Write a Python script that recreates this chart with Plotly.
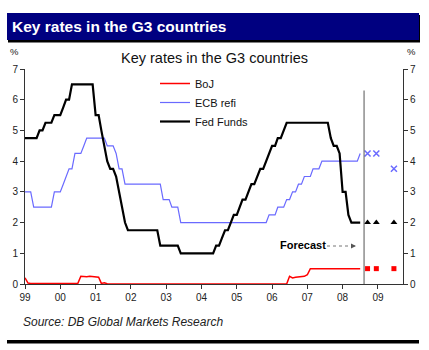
import plotly.graph_objects as go
import pandas as pd

# ---------------- data ----------------
months = pd.date_range("1999-01-01", "2008-07-01", freq="MS")

fed_funds = [
    4.75, 4.75, 4.75, 4.75, 4.75, 5.0, 5.0, 5.25, 5.25, 5.25, 5.5, 5.5,        # 1999
    5.5, 5.75, 6.0, 6.0, 6.5, 6.5, 6.5, 6.5, 6.5, 6.5, 6.5, 6.5,               # 2000
    5.5, 5.5, 5.0, 4.5, 4.0, 3.75, 3.75, 3.5, 3.0, 2.5, 2.0, 1.75,             # 2001
    1.75, 1.75, 1.75, 1.75, 1.75, 1.75, 1.75, 1.75, 1.75, 1.75, 1.25, 1.25,    # 2002
    1.25, 1.25, 1.25, 1.25, 1.25, 1.0, 1.0, 1.0, 1.0, 1.0, 1.0, 1.0,           # 2003
    1.0, 1.0, 1.0, 1.0, 1.0, 1.25, 1.25, 1.5, 1.75, 1.75, 2.0, 2.25,           # 2004
    2.25, 2.5, 2.75, 2.75, 3.0, 3.25, 3.25, 3.5, 3.75, 3.75, 4.0, 4.25,        # 2005
    4.5, 4.5, 4.75, 4.75, 5.0, 5.25, 5.25, 5.25, 5.25, 5.25, 5.25, 5.25,       # 2006
    5.25, 5.25, 5.25, 5.25, 5.25, 5.25, 5.25, 5.25, 4.75, 4.5, 4.5, 4.25,      # 2007
    3.0, 3.0, 2.25, 2.0, 2.0, 2.0, 2.0,                                        # 2008
]

ecb_refi = [
    3.0, 3.0, 3.0, 2.5, 2.5, 2.5, 2.5, 2.5, 2.5, 2.5, 3.0, 3.0,                # 1999
    3.0, 3.25, 3.5, 3.75, 3.75, 4.25, 4.25, 4.25, 4.5, 4.75, 4.75, 4.75,       # 2000
    4.75, 4.75, 4.75, 4.75, 4.5, 4.5, 4.5, 4.25, 3.75, 3.75, 3.25, 3.25,       # 2001
    3.25, 3.25, 3.25, 3.25, 3.25, 3.25, 3.25, 3.25, 3.25, 3.25, 3.25, 2.75,    # 2002
    2.75, 2.75, 2.5, 2.5, 2.5, 2.0, 2.0, 2.0, 2.0, 2.0, 2.0, 2.0,              # 2003
    2.0, 2.0, 2.0, 2.0, 2.0, 2.0, 2.0, 2.0, 2.0, 2.0, 2.0, 2.0,                # 2004
    2.0, 2.0, 2.0, 2.0, 2.0, 2.0, 2.0, 2.0, 2.0, 2.0, 2.0, 2.25,               # 2005
    2.25, 2.25, 2.5, 2.5, 2.5, 2.75, 2.75, 3.0, 3.0, 3.25, 3.25, 3.5,          # 2006
    3.5, 3.5, 3.75, 3.75, 3.75, 4.0, 4.0, 4.0, 4.0, 4.0, 4.0, 4.0,             # 2007
    4.0, 4.0, 4.0, 4.0, 4.0, 4.0, 4.25,                                        # 2008
]

boj = [
    0.2, 0.03, 0.02, 0.02, 0.02, 0.02, 0.02, 0.02, 0.02, 0.02, 0.02, 0.02,     # 1999
    0.02, 0.02, 0.02, 0.02, 0.02, 0.02, 0.02, 0.25, 0.24, 0.24, 0.25, 0.24,    # 2000
    0.25, 0.22, 0.02, 0.04, 0.01, 0.01, 0.01, 0.01, 0.01, 0.01, 0.01, 0.01,    # 2001
    0.0, 0.0, 0.0, 0.0, 0.0, 0.0, 0.0, 0.0, 0.0, 0.0, 0.0, 0.0,                # 2002
    0.0, 0.0, 0.0, 0.0, 0.0, 0.0, 0.0, 0.0, 0.0, 0.0, 0.0, 0.0,                # 2003
    0.0, 0.0, 0.0, 0.0, 0.0, 0.0, 0.0, 0.0, 0.0, 0.0, 0.0, 0.0,                # 2004
    0.0, 0.0, 0.0, 0.0, 0.0, 0.0, 0.0, 0.0, 0.0, 0.0, 0.0, 0.0,                # 2005
    0.0, 0.0, 0.0, 0.0, 0.0, 0.0, 0.25, 0.2, 0.22, 0.23, 0.25, 0.25,           # 2006
    0.3, 0.5, 0.5, 0.5, 0.5, 0.5, 0.5, 0.5, 0.5, 0.5, 0.5, 0.5,                # 2007
    0.5, 0.5, 0.5, 0.5, 0.5, 0.5, 0.5,                                         # 2008
]

forecast_dates = ["2008-09-15", "2008-12-15", "2009-06-15"]
fed_forecast = [2.0, 2.0, 2.0]
ecb_forecast = [4.25, 4.25, 3.75]
boj_forecast = [0.5, 0.5, 0.5]

year_ticks = [f"{y}-01-01" for y in range(1999, 2010)]
year_labels = ["99", "00", "01", "02", "03", "04", "05", "06", "07", "08", "09"]

forecast_start = "2008-08-10"

# ---------------- layout helpers (pixel -> paper) ----------------
W, H = 429, 350
L, R, T, B = 25, 403, 69, 284


def px(x):
    return (x - L) / (R - L)


def py(y):
    return (B - y) / (B - T)


RED = "#ff0000"
BLUE = "#6a6aff"
BLACK = "#000000"

fig = go.Figure()

fig.add_trace(go.Scatter(x=months, y=boj, mode="lines", name="BoJ",
                         line=dict(color=RED, width=1.5)))
fig.add_trace(go.Scatter(x=months, y=ecb_refi, mode="lines", name="ECB refi",
                         line=dict(color=BLUE, width=1.2)))
fig.add_trace(go.Scatter(x=months, y=fed_funds, mode="lines", name="Fed Funds",
                         line=dict(color=BLACK, width=2.2)))

fig.add_trace(go.Scatter(x=forecast_dates, y=boj_forecast, mode="markers", showlegend=False,
                         marker=dict(symbol="square", size=5, color=RED)))
fig.add_trace(go.Scatter(x=forecast_dates, y=ecb_forecast, mode="markers", showlegend=False,
                         marker=dict(symbol="x-thin", size=6, color=BLUE,
                                     line=dict(color=BLUE, width=1.5))))
fig.add_trace(go.Scatter(x=forecast_dates, y=fed_forecast, mode="markers", showlegend=False,
                         marker=dict(symbol="triangle-up", size=6, color=BLACK)))

# second y axis for the right-hand scale
fig.add_trace(go.Scatter(x=[forecast_start], y=[0], yaxis="y2", mode="markers",
                         marker=dict(opacity=0), showlegend=False, hoverinfo="skip"))

shapes = [
    # header bar shadow and bar
    dict(type="rect", xref="paper", yref="paper", x0=px(8), x1=px(420), y0=py(42.5), y1=py(15),
         fillcolor="#000000", line=dict(width=0), layer="below"),
    dict(type="rect", xref="paper", yref="paper", x0=px(7), x1=px(419), y0=py(40), y1=py(13),
         fillcolor="#000080", line=dict(width=0), layer="below"),
    # bottom rule
    dict(type="rect", xref="paper", yref="paper", x0=px(7), x1=px(419), y0=py(343.5), y1=py(340),
         fillcolor="#000000", line=dict(width=0)),
    # forecast divider
    dict(type="line", xref="x", yref="y", x0=forecast_start, x1=forecast_start, y0=0, y1=6.3,
         line=dict(color="#555555", width=1)),
    # dotted arrow shaft
    dict(type="line", xref="paper", yref="paper", x0=px(327), x1=px(351), y0=py(246), y1=py(246),
         line=dict(color="#777777", width=1, dash="dot")),
]

annotations = [
    dict(text="<b>Key rates in the G3 countries</b>", xref="paper", yref="paper",
         x=px(10), y=py(27), xanchor="left", yanchor="middle", showarrow=False,
         font=dict(family="Liberation Sans, Arial", size=15.5, color="white")),
    dict(text="Key rates in the G3 countries", xref="paper", yref="paper",
         x=px(214), y=py(58), xanchor="center", yanchor="middle", showarrow=False,
         font=dict(family="Liberation Sans, Arial", size=14.5, color="#111111")),
    dict(text="%", xref="paper", yref="paper", x=px(14), y=py(51), xanchor="center",
         yanchor="middle", showarrow=False,
         font=dict(family="Liberation Sans, Arial", size=9.5, color="#222222")),
    dict(text="%", xref="paper", yref="paper", x=px(411), y=py(51), xanchor="center",
         yanchor="middle", showarrow=False,
         font=dict(family="Liberation Sans, Arial", size=9.5, color="#222222")),
    dict(text="<b>Forecast</b>", xref="paper", yref="paper", x=px(303), y=py(245),
         xanchor="center", yanchor="middle", showarrow=False,
         font=dict(family="Liberation Sans, Arial", size=11, color="#000000")),
    dict(text="", xref="paper", yref="paper", x=px(356), y=py(246), ax=-6, ay=0,
         showarrow=True, arrowhead=2, arrowsize=1, arrowwidth=1, arrowcolor="#555555"),
    dict(text="<i>Source: DB Global Markets Research</i>", xref="paper", yref="paper",
         x=px(21), y=py(322), xanchor="left", yanchor="middle", showarrow=False,
         font=dict(family="Liberation Sans, Arial", size=12, color="#222222")),
]

axis_font = dict(family="Liberation Sans, Arial", size=10, color="#222222")

fig.update_layout(
    width=W, height=H, autosize=False,
    margin=dict(l=L, r=W - R, t=T, b=H - B, pad=0),
    paper_bgcolor="white", plot_bgcolor="white",
    shapes=shapes, annotations=annotations,
    showlegend=True,
    legend=dict(x=px(155), y=py(69), xanchor="left", yanchor="top",
                bgcolor="rgba(0,0,0,0)", font=dict(family="Liberation Sans, Arial", size=11,
                                                    color="#111111"),
                itemwidth=30, tracegroupgap=0),
    xaxis=dict(type="date", range=["1999-01-01", "2009-09-17"], tickvals=year_ticks,
               ticktext=year_labels, ticks="outside", ticklen=4, tickcolor="#333333",
               showline=True, linecolor="#333333", linewidth=1, showgrid=False,
               zeroline=False, tickfont=axis_font),
    yaxis=dict(range=[0, 7], dtick=1, ticks="outside", ticklen=4, tickcolor="#333333",
               showline=True, linecolor="#333333", linewidth=1, showgrid=False,
               zeroline=False, tickfont=axis_font),
    yaxis2=dict(range=[0, 7], dtick=1, overlaying="y", side="right", ticks="outside",
                ticklen=4, tickcolor="#333333", showline=True, linecolor="#333333",
                linewidth=1, showgrid=False, zeroline=False, tickfont=axis_font),
)

fig.write_html("out.html")
